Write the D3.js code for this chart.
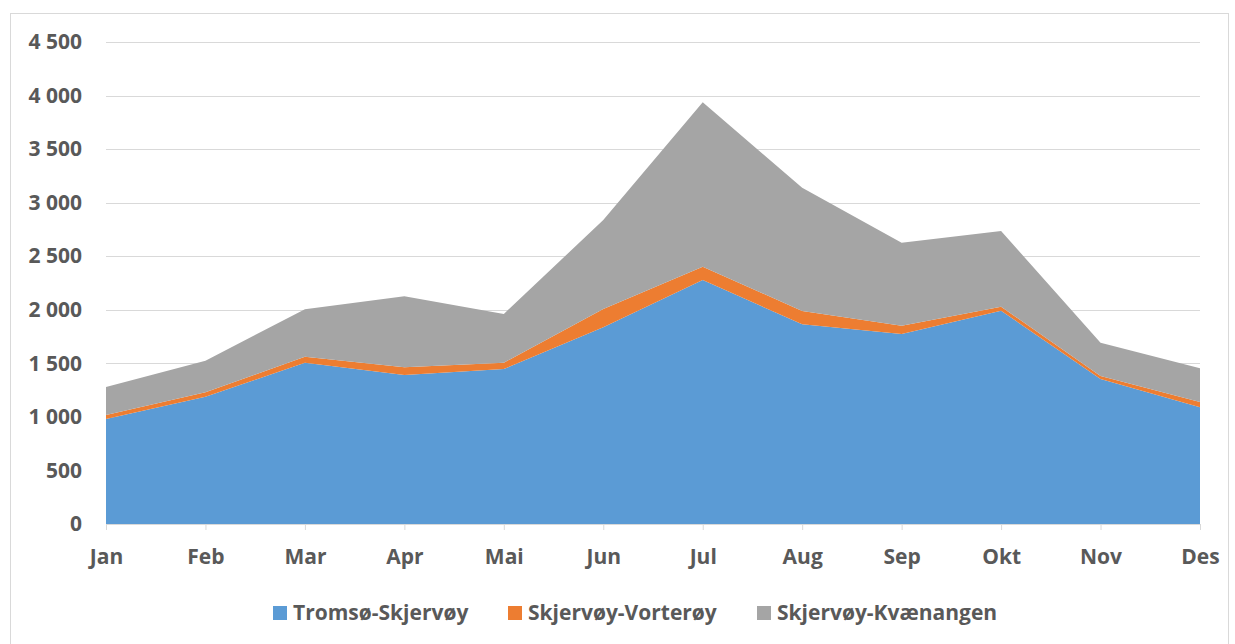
<!DOCTYPE html>
<meta charset="utf-8">
<style>
body { margin: 0; background: #fff; }
text { font-family: "Open Sans", sans-serif; font-weight: bold; fill: #595959; }
</style>
<body>
<svg width="1235" height="644"></svg>
<script src="https://cdn.jsdelivr.net/npm/d3@7"></script>
<script>

var months = ["Jan", "Feb", "Mar", "Apr", "Mai", "Jun", "Jul", "Aug", "Sep", "Okt", "Nov", "Des"];
var seriesNames = ["Tromsø-Skjervøy", "Skjervøy-Vorterøy", "Skjervøy-Kvænangen"];
var tromsoSkjervoy = [980, 1188, 1506, 1391, 1447, 1836, 2278, 1864, 1774, 1991, 1354, 1089];
var skjervoyVorteroy = [38, 42, 56, 72, 59, 171, 124, 125, 77, 38, 28, 50];
var skjervoyKvaenangen = [261, 295, 442, 663, 455, 831, 1535, 1151, 775, 706, 311, 314];
var yTicks = [0, 500, 1000, 1500, 2000, 2500, 3000, 3500, 4000, 4500];
var colors = ["#5B9BD5", "#ED7D31", "#A5A5A5"];

var svg = d3.select("svg");

var rows = months.map(function(m, i) {
  return { month: m, a: tromsoSkjervoy[i], b: skjervoyVorteroy[i], c: skjervoyKvaenangen[i] };
});

var x = d3.scalePoint().domain(months).range([106, 1200]);
var y = d3.scaleLinear().domain([0, 4500]).range([524, 42]);

// outer frame
svg.append("rect")
    .attr("x", 10.5).attr("y", 13.5)
    .attr("width", 1218).attr("height", 640)
    .attr("fill", "none").attr("stroke", "#D9D9D9");

// gridlines
svg.append("g").selectAll("line")
  .data(yTicks.slice(1))
  .enter().append("line")
    .attr("x1", 106).attr("x2", 1200)
    .attr("y1", function(d) { return Math.round(y(d)) + 0.5; })
    .attr("y2", function(d) { return Math.round(y(d)) + 0.5; })
    .attr("stroke", "#D9D9D9");

var stack = d3.stack().keys(["a", "b", "c"]);
var area = d3.area()
    .x(function(d) { return x(d.data.month); })
    .y0(function(d) { return y(d[0]); })
    .y1(function(d) { return y(d[1]); });

svg.append("g").selectAll("path")
  .data(stack(rows))
  .enter().append("path")
    .attr("fill", function(d, i) { return colors[i]; })
    .attr("d", area);

// x axis
var xAxis = svg.append("g")
    .attr("transform", "translate(0,524)")
    .call(d3.axisBottom(x).tickSize(6).tickPadding(19));
xAxis.select(".domain").attr("stroke", "#D9D9D9").attr("d", "M106,0.5H1200");
xAxis.selectAll(".tick line").attr("stroke", "#D9D9D9");
xAxis.selectAll("text").attr("font-size", 21).attr("fill", "#595959").attr("font-family", null);

// y axis
var yAxis = svg.append("g")
    .attr("transform", "translate(82,0)")
    .call(d3.axisLeft(y).tickValues(yTicks).tickSize(0).tickPadding(0)
      .tickFormat(function(d) { return d3.format(",")(d).replace(",", " "); }));
yAxis.select(".domain").remove();
yAxis.selectAll("text").attr("font-size", 21).attr("fill", "#595959").attr("font-family", null);

// legend
var legendX = [273, 508, 757];
var legend = svg.append("g").selectAll("g")
  .data(seriesNames)
  .enter().append("g")
    .attr("transform", function(d, i) { return "translate(" + legendX[i] + ",606)"; });
legend.append("rect")
    .attr("width", 14).attr("height", 14)
    .attr("fill", function(d, i) { return colors[i]; });
legend.append("text")
    .attr("x", 20).attr("y", 7)
    .attr("dy", "0.35em")
    .attr("font-size", 21)
    .text(function(d) { return d; });

</script>
</body>
